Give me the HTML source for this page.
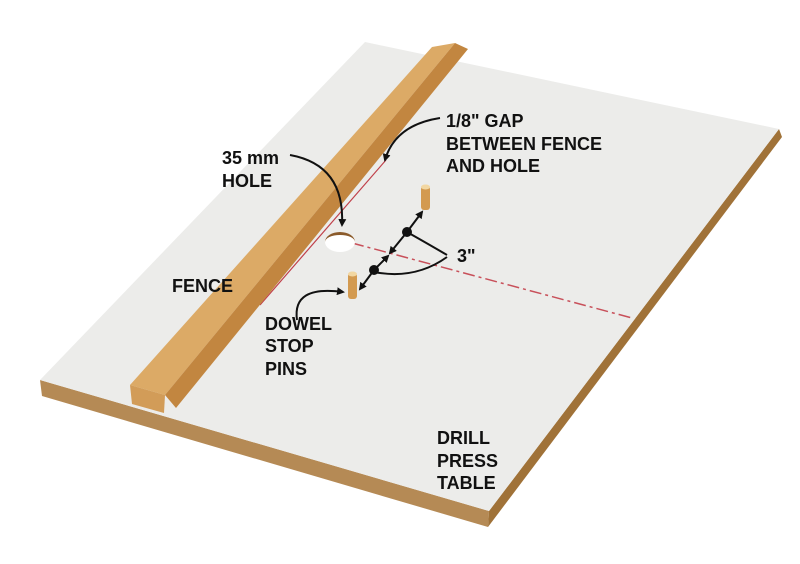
<!DOCTYPE html>
<html><head><style>
body{margin:0;background:#fff;}
svg{display:block}
text{font-family:"Liberation Sans Narrow","Liberation Sans",sans-serif;font-weight:bold;font-size:18px;fill:#111}
</style></head><body>
<svg width="800" height="564" viewBox="0 0 800 564">
<defs>
<marker id="ah" markerWidth="8" markerHeight="8" refX="6" refY="4" orient="auto" markerUnits="userSpaceOnUse"><path d="M0,0 L8,4 L0,8 Z" fill="#111"/></marker>
</defs>
<!-- board edges -->
<polygon points="40,380 489,511 488,527 42,396" fill="#b58a55"/>
<polygon points="489,511 779,129 782,137 488,527" fill="#a07238"/>
<!-- top face -->
<polygon points="365,42 779,129 489,511 40,380" fill="#ececea"/>
<!-- red guide lines -->
<line x1="260" y1="305" x2="386" y2="160" stroke="#c0404a" stroke-width="1.2"/>
<line x1="352" y1="243" x2="632" y2="318" stroke="#c8505a" stroke-width="1.5" stroke-dasharray="12,4,3,4"/>
<!-- hole -->
<ellipse cx="340" cy="242" rx="15" ry="10" fill="#fff"/>
<path d="M325,242 A15,10 0 0 1 355,242 A15,7 0 0 0 325,242Z" fill="#8a5a2a"/>
<!-- fence -->
<polygon points="432,47 455,43 165,395 130,385" fill="#dcaa66"/>
<polygon points="455,43 468,49 176,408 165,395" fill="#c28640"/>
<polygon points="130,385 165,395 164,413 132,404" fill="#d29c58"/>
<!-- pins -->
<rect x="421" y="186" width="9" height="24" rx="3" fill="#d39a50"/>
<ellipse cx="425.5" cy="187" rx="4.5" ry="2.5" fill="#f2d7a2"/>
<rect x="348" y="273" width="9" height="26" rx="3" fill="#d39a50"/>
<ellipse cx="352.5" cy="274" rx="4.5" ry="2.5" fill="#f2d7a2"/>
<!-- dimension arrows -->
<line x1="407" y1="232" x2="422" y2="212" stroke="#111" stroke-width="2" marker-end="url(#ah)"/>
<line x1="407" y1="232" x2="390" y2="253" stroke="#111" stroke-width="2" marker-end="url(#ah)"/>
<line x1="374" y1="270" x2="388" y2="256" stroke="#111" stroke-width="2" marker-end="url(#ah)"/>
<line x1="374" y1="270" x2="360" y2="289" stroke="#111" stroke-width="2" marker-end="url(#ah)"/>
<circle cx="407" cy="232" r="5" fill="#111"/>
<circle cx="374" cy="270" r="5" fill="#111"/>
<path d="M407,232 Q430,245 447,255" stroke="#111" stroke-width="2" fill="none"/>
<path d="M374,272 Q415,280 447,257" stroke="#111" stroke-width="2" fill="none"/>
<!-- leader arrows -->
<path d="M290,155 Q345,165 342,225" stroke="#111" stroke-width="2" fill="none" marker-end="url(#ah)"/>
<path d="M440,118 Q395,125 385,160" stroke="#111" stroke-width="2" fill="none" marker-end="url(#ah)"/>
<path d="M297,320 Q292,285 343,292" stroke="#111" stroke-width="2" fill="none" marker-end="url(#ah)"/>
<!-- labels -->
<text x="446" y="127">1/8" GAP</text>
<text x="446" y="150">BETWEEN FENCE</text>
<text x="446" y="172">AND HOLE</text>
<text x="222" y="164">35 mm</text>
<text x="222" y="187">HOLE</text>
<text x="457" y="262">3"</text>
<text x="172" y="292">FENCE</text>
<text x="265" y="330">DOWEL</text>
<text x="265" y="352">STOP</text>
<text x="265" y="375">PINS</text>
<text x="437" y="444">DRILL</text>
<text x="437" y="467">PRESS</text>
<text x="437" y="489">TABLE</text>
</svg>
</body></html>
